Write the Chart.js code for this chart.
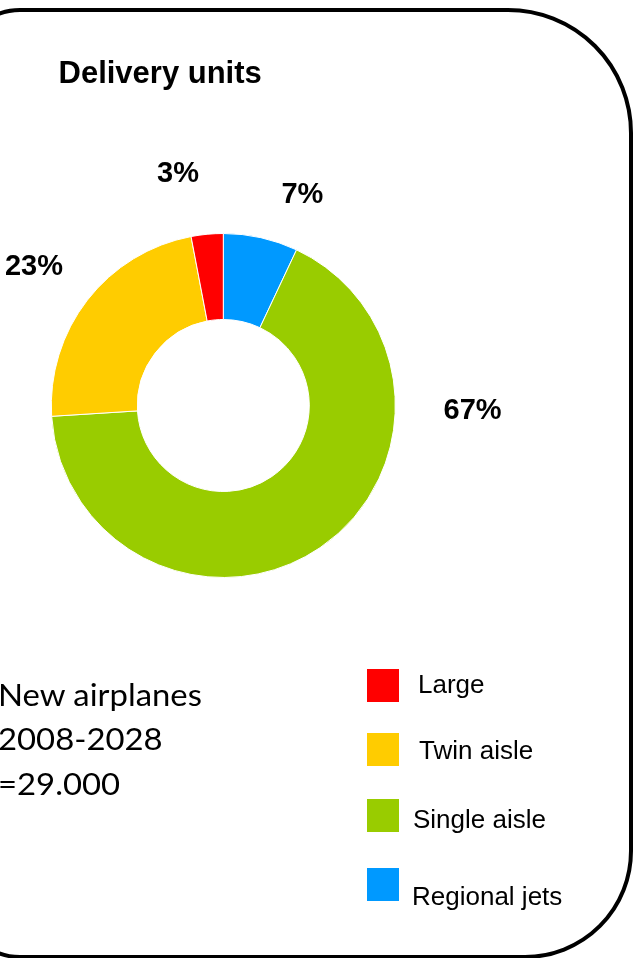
<!DOCTYPE html>
<html>
<head>
<meta charset="utf-8">
<title>Delivery units</title>
<script src="https://cdn.jsdelivr.net/npm/chart.js@4.4.1/dist/chart.umd.min.js"></script>
<style>
  html, body {
    margin: 0;
    padding: 0;
    background: #fff;
  }
  body {
    position: relative;
    width: 634px;
    height: 958px;
    overflow: hidden;
  }
  #frame {
    position: absolute;
    left: -40px;
    top: 7.5px;
    width: 672.5px;
    height: 951px;
    box-sizing: border-box;
    border: 4px solid #000;
    border-radius: 60px 125px 108px 60px;
  }
  #donut {
    position: absolute;
    left: 0;
    top: 0;
  }
  #title {
    position: absolute;
    left: 58.5px;
    top: 56.5px;
    font: bold 31px/31px "Liberation Sans", Arial, sans-serif;
    color: #000;
    white-space: nowrap;
  }
  #note {
    position: absolute;
    left: -2px;
    top: 671.5px;
    font: 31px/44.5px Lato, "Noto Sans", sans-serif;
    color: #000;
    white-space: nowrap;
    transform: scaleX(1.06);
    transform-origin: 0 0;
  }
  .legend-box {
    position: absolute;
    left: 367px;
    width: 32px;
    height: 33px;
  }
  .legend-text {
    position: absolute;
    font: 26px/26px "Liberation Sans", Arial, sans-serif;
    color: #000;
    white-space: nowrap;
  }
</style>
</head>
<body>
<div id="frame"></div>
<canvas id="donut" width="634" height="958"></canvas>
<div id="title">Delivery units</div>
<div id="note">New airplanes<br>2008-2028<br>=29.000</div>
<div id="legend"></div>

<script>
// segments, clockwise from 12 o'clock
const segments = ["Regional jets", "Single aisle", "Twin aisle", "Large"];
const shares = [7, 67, 23, 3];
const colors = ["#0099FF", "#99CC00", "#FFCC00", "#FF0000"];

// legend lists the segments bottom-up
const legendOrder = [3, 2, 1, 0];

// ring geometry
const ringCenter = { x: 223.3, y: 405.5 };
const outerR = 172;
const holeSize = "50%";

// percent label anchors, in outer radii from the ring centre (same order as segments)
const labelOffsets = [
  [0.46, -1.177],
  [1.449, 0.079],
  [-1.101, -0.759],
  [-0.263, -1.299]
];

// legend rows: swatch top, text left, text baseline
const legendRows = [
  { box: 669, x: 418, base: 693 },
  { box: 732.5, x: 419, base: 759 },
  { box: 798.5, x: 413, base: 828 },
  { box: 867.5, x: 412, base: 905 }
];

const percentLabels = {
  id: "percentLabels",
  afterDatasetsDraw(chart) {
    const ctx = chart.ctx;
    const meta = chart.getDatasetMeta(0);
    ctx.save();
    ctx.font = "bold 29px 'Liberation Sans', Arial, sans-serif";
    ctx.fillStyle = "#000";
    ctx.textAlign = "center";
    ctx.textBaseline = "alphabetic";
    meta.data.forEach((arc, i) => {
      const r = arc.outerRadius;
      const [ox, oy] = labelOffsets[i];
      ctx.fillText(shares[i] + "%", arc.x + ox * r, arc.y + oy * r);
    });
    ctx.restore();
  }
};

const canvas = document.getElementById("donut");

new Chart(canvas.getContext("2d"), {
  type: "doughnut",
  data: {
    labels: segments,
    datasets: [{
      data: shares,
      backgroundColor: colors,
      borderColor: "#ffffff",
      borderWidth: 1
    }]
  },
  options: {
    responsive: false,
    animation: false,
    radius: outerR,
    cutout: holeSize,
    rotation: 0,
    layout: {
      padding: {
        left: 0,
        top: 0,
        right: canvas.width - 2 * ringCenter.x,
        bottom: canvas.height - 2 * ringCenter.y
      }
    },
    plugins: {
      legend: { display: false },
      tooltip: { enabled: false }
    }
  },
  plugins: [percentLabels]
});

// legend, built from the same segment arrays
const legendEl = document.getElementById("legend");
legendOrder.forEach((idx, row) => {
  const pos = legendRows[row];
  const box = document.createElement("div");
  box.className = "legend-box";
  box.style.top = pos.box + "px";
  box.style.background = colors[idx];
  legendEl.appendChild(box);

  const txt = document.createElement("div");
  txt.className = "legend-text";
  txt.textContent = segments[idx];
  txt.style.left = pos.x + "px";
  txt.style.top = (pos.base - 22) + "px";
  legendEl.appendChild(txt);
});
</script>
</body>
</html>
